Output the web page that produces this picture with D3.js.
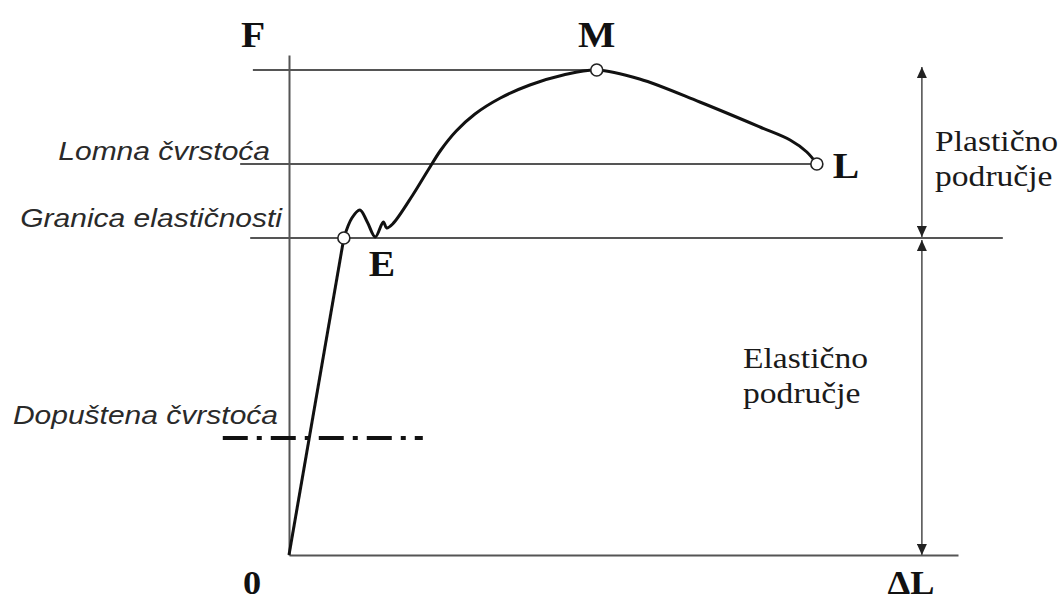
<!DOCTYPE html>
<html>
<head>
<meta charset="utf-8">
<script src="https://cdn.jsdelivr.net/npm/d3@7/dist/d3.min.js"></script>
<style>
  body { margin: 0; background: #fff; }
  svg { display: block; }
</style>
</head>
<body>
<div id="chart"></div>
<script>
// deformation (ΔL) and force (F), arbitrary units 0..100
const elasticStrain = [0, 8.2]
const elasticForce = [0, 63.4]

const plasticStrain = [8.2, 9.4, 10.6, 11.7, 12.9, 14.1, 14.6, 15.5, 18.5, 20.8, 22.7, 25.0, 27.8, 31.6, 36.0, 41.0, 46.0, 52.4, 61.4, 70.4, 74.9, 77.4, 78.9]
const plasticForce = [63.4, 67.4, 69.0, 66.6, 63.6, 66.6, 65.4, 66.2, 72.0, 77.0, 81.0, 84.8, 88.2, 91.4, 94.0, 96.0, 97.0, 95.2, 90.6, 85.6, 83.0, 80.6, 78.2]

const pointNames = ['E', 'M', 'L']
const pointStrain = [8.2, 46.0, 78.9]
const pointForce = [63.4, 97.0, 78.2]

const levelNames = ['Lomna čvrstoća', 'Granica elastičnosti', 'Dopuštena čvrstoća']
const levelForce = [78.2, 63.4, 23.4]

const regionNames = [['Plastično', 'područje'], ['Elastično', 'područje']]
const axisNames = ['F', 'ΔL', '0']

const width = 1062
const height = 601

const svg = d3
  .select('#chart')
  .append('svg')
  .attr('width', width)
  .attr('height', height)

const xScale = d3.scaleLinear().domain([0, 100]).range([289, 958])
const yScale = d3.scaleLinear().domain([0, 100]).range([555, 55])

const serif = '"Liberation Serif", "Times New Roman", serif'
const sans = '"Liberation Sans", Arial, sans-serif'
const grey = '#555'

// the picture is a little stretched sideways, so is the text
function stretched(sel, x, y, sx) {
  return sel.attr('transform', `translate(${x},${y}) scale(${sx},1)`)
}

// arrowheads
const defs = svg.append('defs')
defs
  .append('marker')
  .attr('id', 'head')
  .attr('markerUnits', 'userSpaceOnUse')
  .attr('markerWidth', 12)
  .attr('markerHeight', 10)
  .attr('refX', 11)
  .attr('refY', 5)
  .attr('orient', 'auto-start-reverse')
  .append('path')
  .attr('d', 'M0,0 L11,5 L0,10 Z')
  .attr('fill', '#222')

// axes, no ticks
svg
  .append('g')
  .attr('transform', `translate(0,${yScale(0)})`)
  .call(d3.axisBottom(xScale).tickValues([]).tickSizeOuter(0))
svg
  .append('g')
  .attr('transform', `translate(${xScale(0)},0)`)
  .call(d3.axisLeft(yScale).tickValues([]).tickSizeOuter(0))
svg.selectAll('.domain').attr('stroke', grey).attr('stroke-width', 2)

// reference levels
const lineStart = [-7.3, -5.8, -9.9]
const lineEnd = [pointStrain[2], 106.7, 20.0]

svg
  .append('line')
  .attr('x1', xScale(-5.4))
  .attr('x2', xScale(pointStrain[1]))
  .attr('y1', yScale(pointForce[1]))
  .attr('y2', yScale(pointForce[1]))
  .attr('stroke', grey)
  .attr('stroke-width', 2)

svg
  .selectAll('.level')
  .data(levelForce)
  .enter()
  .append('line')
  .attr('class', 'level')
  .attr('x1', (_, i) => xScale(lineStart[i]))
  .attr('x2', (_, i) => xScale(lineEnd[i]))
  .attr('y1', d => yScale(d))
  .attr('y2', d => yScale(d))
  .attr('stroke', (_, i) => (i === 2 ? '#111' : grey))
  .attr('stroke-width', (_, i) => (i === 2 ? 4 : 2))
  .attr('stroke-dasharray', (_, i) => (i === 2 ? '25 9 5 9' : null))

const labelEnd = [270, 282, 278]
const labelLift = [4, 11, 14]
svg
  .selectAll('.level-label')
  .data(levelNames)
  .enter()
  .append('text')
  .attr('class', 'level-label')
  .each(function (d, i) {
    stretched(d3.select(this), labelEnd[i], yScale(levelForce[i]) - labelLift[i], 1.2)
  })
  .attr('text-anchor', 'end')
  .attr('font-family', sans)
  .attr('font-style', 'italic')
  .attr('font-size', 25)
  .attr('fill', '#2a2a2a')
  .text(d => d)

// region arrows
const arrowX = xScale(94.6)
svg
  .append('line')
  .attr('x1', arrowX)
  .attr('x2', arrowX)
  .attr('y1', yScale(pointForce[1]) - 3)
  .attr('y2', yScale(levelForce[1]) - 1)
  .attr('stroke', grey)
  .attr('stroke-width', 1.6)
  .attr('marker-start', 'url(#head)')
  .attr('marker-end', 'url(#head)')
svg
  .append('line')
  .attr('x1', arrowX)
  .attr('x2', arrowX)
  .attr('y1', yScale(levelForce[1]) + 2)
  .attr('y2', yScale(0))
  .attr('stroke', grey)
  .attr('stroke-width', 1.6)
  .attr('marker-start', 'url(#head)')
  .attr('marker-end', 'url(#head)')

const regionPos = [
  [935, 151],
  [743, 368]
]
regionNames.forEach((lines, i) => {
  lines.forEach((t, j) => {
    stretched(svg.append('text'), regionPos[i][0], regionPos[i][1] + j * 35, 1.12)
      .attr('font-family', serif)
      .attr('font-size', 30)
      .attr('fill', '#1a1a1a')
      .text(t)
  })
})

// the curve
const line = d3
  .line()
  .x(d => xScale(d[0]))
  .y(d => yScale(d[1]))

svg
  .append('path')
  .datum(d3.zip(elasticStrain, elasticForce))
  .attr('d', line)
  .attr('fill', 'none')
  .attr('stroke', '#111')
  .attr('stroke-width', 3)

svg
  .append('path')
  .datum(d3.zip(plasticStrain, plasticForce))
  .attr('d', line.curve(d3.curveCatmullRom.alpha(0.5)))
  .attr('fill', 'none')
  .attr('stroke', '#111')
  .attr('stroke-width', 3)

svg
  .selectAll('.point')
  .data(pointNames)
  .enter()
  .append('circle')
  .attr('class', 'point')
  .attr('cx', (_, i) => xScale(pointStrain[i]))
  .attr('cy', (_, i) => yScale(pointForce[i]))
  .attr('r', 6)
  .attr('fill', '#fff')
  .attr('stroke', '#222')
  .attr('stroke-width', 1.6)

// point letters: below E, above M, right of L
const letterPos = [
  [38, 38],
  [0, -23],
  [16, 14]
]
svg
  .selectAll('.point-label')
  .data(pointNames)
  .enter()
  .append('text')
  .attr('class', 'point-label')
  .each(function (d, i) {
    const x = xScale(pointStrain[i]) + letterPos[i][0]
    const y = yScale(pointForce[i]) + letterPos[i][1]
    stretched(d3.select(this), x, y, 1.1)
  })
  .attr('text-anchor', (_, i) => (i === 2 ? 'start' : 'middle'))
  .attr('font-family', serif)
  .attr('font-weight', 'bold')
  .attr('font-size', 36)
  .attr('fill', '#111')
  .text(d => d)

const axisPos = [
  [253, 47],
  [911, 594],
  [252, 594]
]
axisNames.forEach((t, i) => {
  stretched(svg.append('text'), axisPos[i][0], axisPos[i][1], 1.1)
    .attr('text-anchor', 'middle')
    .attr('font-family', serif)
    .attr('font-weight', 'bold')
    .attr('font-size', i === 0 ? 36 : 33)
    .attr('fill', '#111')
    .text(t)
})
</script>
</body>
</html>
